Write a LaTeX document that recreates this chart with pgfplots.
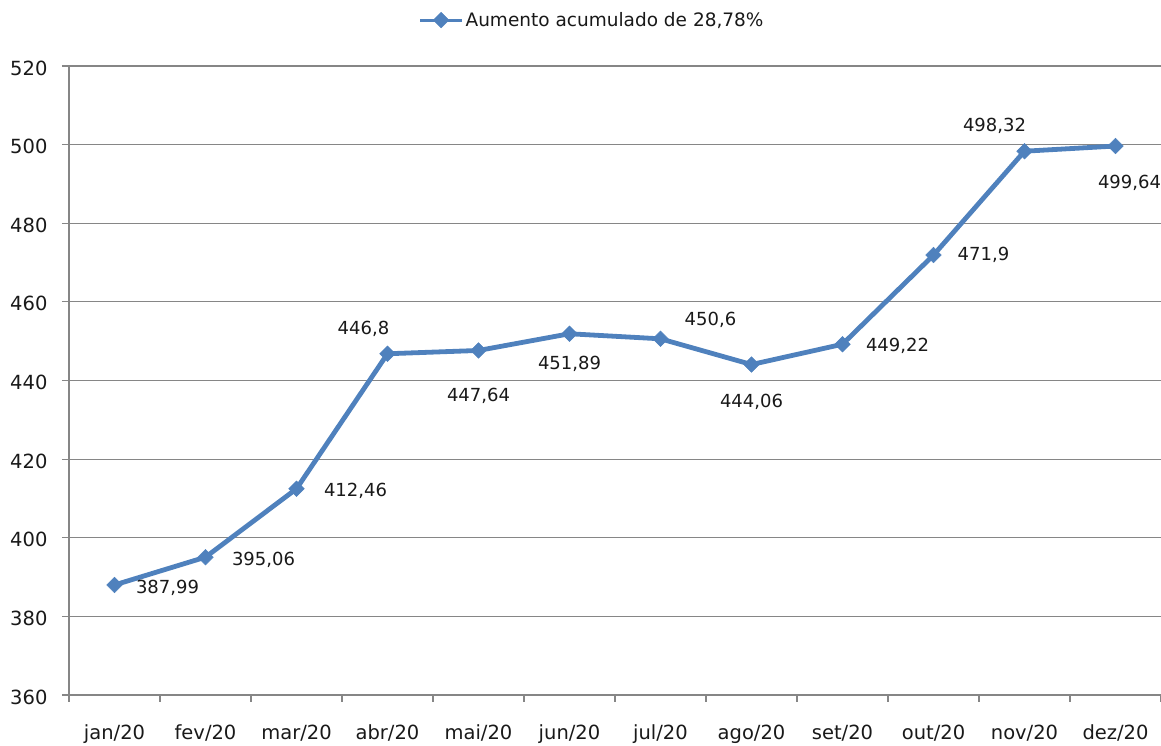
\documentclass[border=0pt]{standalone}
\usepackage{fontspec}
\setmainfont{DejaVu Sans}
\usepackage{pgfplots}
\pgfplotsset{compat=1.18}
\usepackage{pgfplotstable}
\definecolor{lineblue}{HTML}{4F81BD}
\definecolor{gridgray}{HTML}{868686}
\pgfplotstableread{
x y lab dx dy
0 387.99 387,99 53 -3
1 395.06 395,06 58 -3
2 412.46 412,46 59 -2
3 446.8 446,8 -24 25
4 447.64 447,64 0 -45
5 451.89 451,89 0 -30
6 450.6 450,6 50 19
7 444.06 444,06 0 -37
8 449.22 449,22 55 -2
9 471.9 471,9 50 0
10 498.32 498,32 -30 25
11 499.64 499,64 14 -37
}\data
\begin{document}
\begin{tikzpicture}
\useasboundingbox (-69pt,-51pt) rectangle (1092pt,695pt);
\begin{axis}[
 at={(0pt,0pt)}, anchor=south west,
 scale only axis, width=1092pt, height=629pt,
 xmin=-0.5, xmax=11.5, ymin=360, ymax=520,
 ytick={360,380,...,520},
 xtick={0,...,11},
 xticklabels={jan/20,fev/20,mar/20,abr/20,mai/20,jun/20,jul/20,ago/20,set/20,out/20,nov/20,dez/20},
 minor xtick={-0.5,0.5,...,11.5},
 axis lines=left, axis line style={-, gridgray, line width=1.2pt},
 ymajorgrids, grid style={gridgray, line width=1.2pt},
 tick style={gridgray, line width=1.2pt},
 major tick length=7pt, minor tick length=7pt,
 tick align=outside,
 major x tick style={draw=none},
 /pgf/number format/assume math mode=true,
 ticklabel style={font=\fontsize{19.5}{22}\selectfont, text=black!90},
 yticklabel style={xshift=-11pt, yshift=-2pt},
 xticklabel style={yshift=-19pt},
 clip=false,
 legend style={at={(0.479,1.073)}, anchor=center, draw=none, font=\fontsize{18.5}{21}\selectfont, text=black!90},
 legend image code/.code={\draw[#1, line width=3pt, mark repeat=2, mark phase=2] plot coordinates {(0pt,0pt) (21pt,0pt) (42pt,0pt)};},
]
\addplot[lineblue, line width=4.8pt, mark=square*, mark size=5.5pt,
 mark options={rotate=45, line width=0.5pt, fill=lineblue},
 nodes near coords, point meta=explicit symbolic,
 visualization depends on={\thisrow{dx} \as \dx},
 visualization depends on={\thisrow{dy} \as \dy},
 every node near coord/.append style={anchor=center, xshift=\dx pt, yshift=\dy pt, font=\fontsize{18}{21}\selectfont, text=black!90},
] table[x=x, y=y, meta=lab] {\data};
\addlegendentry{Aumento acumulado de 28,78\%}
\end{axis}
\end{tikzpicture}
\end{document}
